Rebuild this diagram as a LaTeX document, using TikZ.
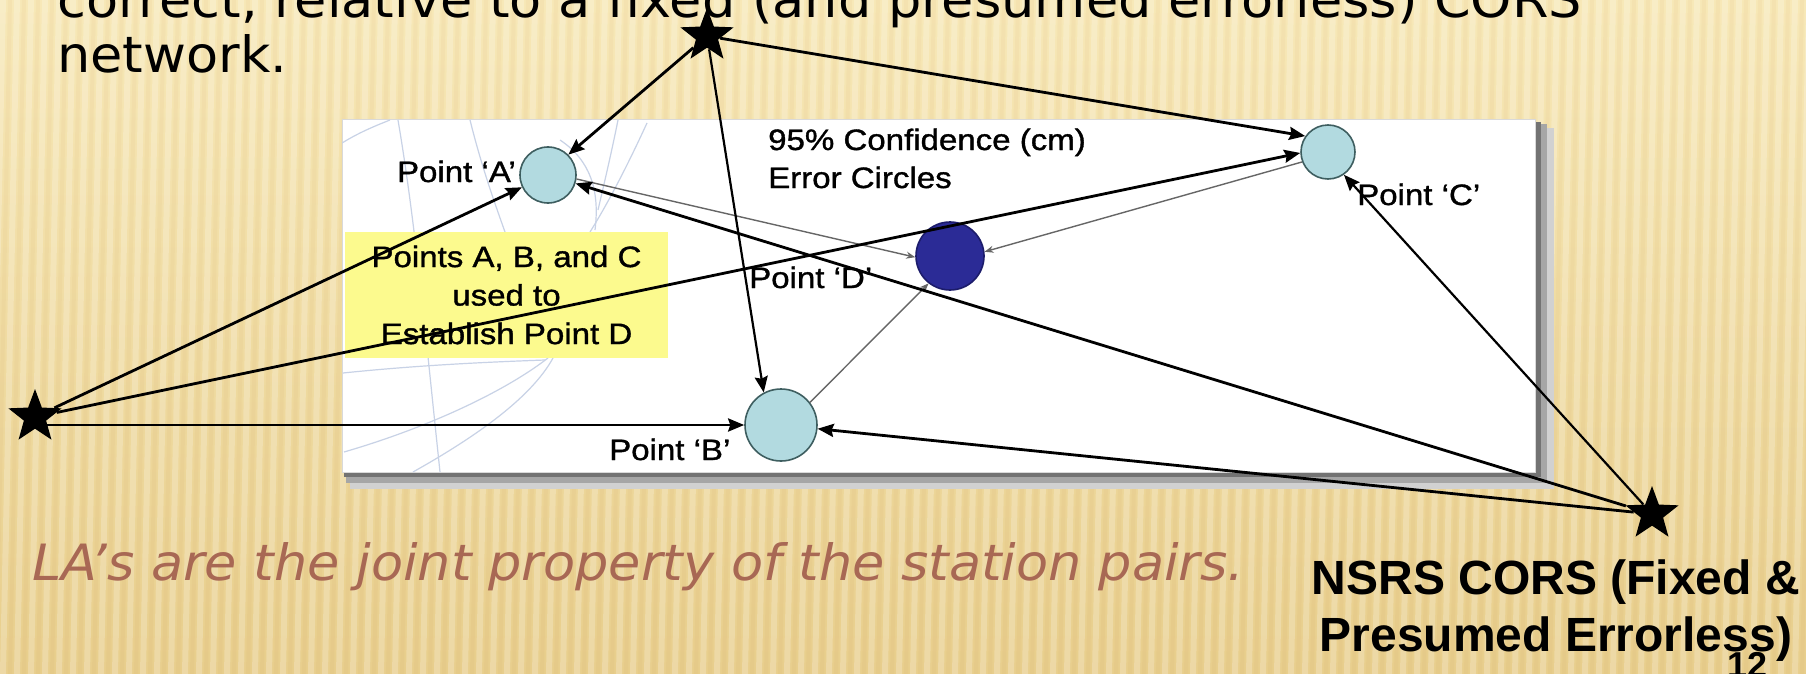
\documentclass[tikz,border=0pt]{standalone}
\usepackage{fontspec}
\setmainfont{DejaVu Sans}
\newfontfamily\slidefont[FakeStretch=1.05,ItalicFont={DejaVu Sans Oblique}]{DejaVu Sans}
\newfontfamily\panelfont[FakeStretch=1.12,FakeBold=1.2]{Liberation Sans}
\newfontfamily\corsfont{Liberation Sans}
\usetikzlibrary{arrows.meta,shapes.geometric,calc}

\definecolor{bgtop}{RGB}{247,232,183}
\definecolor{bgbot}{RGB}{232,206,140}
\definecolor{ptfill}{RGB}{178,218,224}
\definecolor{ptline}{RGB}{62,94,96}
\definecolor{dfill}{RGB}{43,43,150}
\definecolor{dline}{RGB}{28,28,107}
\definecolor{notefill}{RGB}{252,250,142}
\definecolor{labtext}{RGB}{168,104,84}
\definecolor{mapline}{RGB}{200,210,230}

\begin{document}
\begin{tikzpicture}[x=1pt,y=-1pt,
    station/.style={star,star points=5,star point ratio=2.4,fill=black,inner sep=0pt,minimum size=56pt},
    errcirc/.style={circle,fill=ptfill,draw=ptline,line width=1.6pt,inner sep=0pt},
    link/.style={line width=2.8pt,-{Stealth[length=16pt,width=13pt,inset=2pt]}},
    dlink/.style={draw=black!60,line width=1.4pt,-{Stealth[length=9pt,width=7pt]}},
    plab/.style={font=\panelfont\fontsize{29.5}{32}\selectfont,anchor=base west,inner sep=0pt}]
    \useasboundingbox (0,0) rectangle (1806,674);
    \clip (0,0) rectangle (1806,674);
    % --- slide background ---
    \shade[top color=bgtop,bottom color=bgbot] (0,0) rectangle (1806,674);
    \foreach \i in {0,...,133}
      \fill[white,opacity=0.22] ({\i*14},0) -- ++(6,0) -- ++(-14,674) -- ++(-6,0) -- cycle;
    \foreach \i in {0,...,133}
      \fill[brown,opacity=0.05] ({\i*14+8},0) -- ++(4,0) -- ++(-14,674) -- ++(-4,0) -- cycle;
    % --- slide text ---
    \node[anchor=base west,inner sep=0pt,font=\slidefont\fontsize{50}{60}\selectfont] (topline) at (57,18)
      {correct, relative to a fixed (and presumed errorless) CORS};
    \node[anchor=base west,inner sep=0pt,font=\slidefont\fontsize{50}{60}\selectfont] (netline) at (57,73) {network.};
    \node[anchor=base west,inner sep=0pt,text=labtext,font=\slidefont\itshape\fontsize{50}{60}\selectfont] (pairs) at (32,580)
      {LA’s are the joint property of the station pairs.};
    \node[anchor=base,inner sep=0pt,font=\corsfont\bfseries\fontsize{48}{57}\selectfont] (cors1) at (1556,594) {NSRS CORS (Fixed \&};
    \node[anchor=base,inner sep=0pt,font=\corsfont\bfseries\fontsize{48}{57}\selectfont] (cors2) at (1556,651) {Presumed Errorless)};
    \node[anchor=base,inner sep=0pt,font=\corsfont\bfseries\fontsize{36}{40}\selectfont] (slideno) at (1747,677) {12};
    % --- panel with shadow ---
    \fill[black!18] (350,128) rectangle (1554,489);
    \fill[black!35] (346,124) rectangle (1547,483);
    \fill[black!55] (344,122) rectangle (1541,477);
    \fill[white] (342,120) rectangle (1535,472);
    \draw[black!15,line width=1pt] (342,120) rectangle (1535,472);
    \begin{scope}
      \clip (342,120) rectangle (1535,472);
      \draw[mapline,line width=1.2pt] (342,143) .. controls (360,132) and (375,126) .. (390,120);
      \draw[mapline,line width=1.2pt] (398,120) .. controls (415,220) and (425,330) .. (440,472);
      \draw[mapline,line width=1.2pt] (344,452) .. controls (420,430) and (500,395) .. (548,358);
      \draw[mapline,line width=1.2pt] (413,472) .. controls (470,440) and (530,400) .. (553,358);
      \draw[mapline,line width=1.2pt] (343,373) .. controls (420,365) and (490,362) .. (545,360);
      \draw[mapline,line width=1.2pt] (647,123) .. controls (630,160) and (610,200) .. (590,232);
      \draw[mapline,line width=1.2pt] (618,120) .. controls (612,150) and (605,180) .. (598,210);
      \draw[mapline,line width=1.2pt] (560,140) .. controls (590,160) and (600,190) .. (595,230);
      \draw[mapline,line width=1.2pt] (470,120) .. controls (480,160) and (490,190) .. (505,232);
    \end{scope}
    % --- note and panel labels ---
    \node[fill=notefill,minimum width=323pt,minimum height=126pt,inner sep=0pt,align=center,
          font=\panelfont\fontsize{29.5}{38.5}\selectfont] (note) at (506.5,295)
      {Points A, B, and C\\used to\\Establish Point D};
    \node[plab] (conf1) at (768,150) {95\% Confidence (cm)};
    \node[plab] (conf2) at (768,188) {Error Circles};
    \node[plab,anchor=base east] (labA) at (516,182) {Point ‘A’};
    \node[plab] (labB) at (609,460) {Point ‘B’};
    \node[plab] (labC) at (1357,205) {Point ‘C’};
    \node[plab] (labD) at (749,288) {Point ‘D’};
    % --- error circles ---
    \node[errcirc,minimum size=56pt] (ptA) at (548,175) {};
    \node[errcirc,minimum size=72pt] (ptB) at (781,425) {};
    \node[errcirc,minimum size=54pt] (ptC) at (1328,152) {};
    \node[errcirc,fill=dfill,draw=dline,minimum size=68pt] (ptD) at (950,256) {};
    % --- CORS stations ---
    \node[station] (tstar) at (707,36) {};
    \node[station] (lstar) at (35,417) {};
    \node[station] (rstar) at (1652,514) {};
    % --- ties into D ---
    \draw[dlink] (ptA.-8) -- (ptD.182);
    \draw[dlink] (ptC.201) -- (ptD.7);
    \draw[dlink] (ptB.38) -- (ptD.232);
    % --- ties from the CORS ---
    \draw[link] (tstar) -- (ptA.45);
    \draw[link,line width=2.2pt] (tstar) -- (ptB.118);
    \draw[link] (tstar) -- (ptC.145);
    \draw[link] (lstar) -- (ptA);
    \draw[link] (lstar) -- (ptC.182);
    \draw[link] (lstar.center |- ptB.west) -- (ptB.west);
    \draw[link] (rstar) -- (ptA);
    \draw[link] (rstar) -- (ptB);
    \draw[link,line width=2.2pt] (rstar) -- (ptC.-55);
\end{tikzpicture}
\end{document}
